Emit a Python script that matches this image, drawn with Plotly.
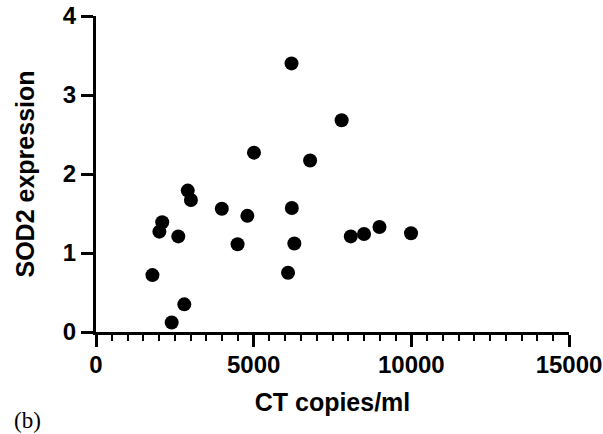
import plotly.graph_objects as go

ct_copies = [6200, 5010, 2910, 3010, 3990, 4800, 6210, 2100, 2010, 2610, 4490, 6290,
             1790, 6090, 2800, 2400, 7790, 6790, 8080, 8500, 8990, 9990]
sod2_expr = [3.40, 2.27, 1.79, 1.67, 1.56, 1.47, 1.57, 1.39, 1.27, 1.21, 1.11, 1.12,
             0.72, 0.75, 0.35, 0.12, 2.68, 2.17, 1.21, 1.24, 1.33, 1.25]

x_ticks = [0, 5000, 10000, 15000]
y_ticks = [0, 1, 2, 3, 4]

fig = go.Figure()
fig.add_trace(go.Scatter(
    x=ct_copies, y=sod2_expr, mode="markers",
    marker=dict(color="black", size=14, line=dict(width=0)),
    showlegend=False, cliponaxis=False,
))

font_b = "Liberation Sans, Arial, sans-serif"
fig.update_layout(
    width=603, height=434,
    margin=dict(l=96, r=34, t=16, b=102, autoexpand=False),
    paper_bgcolor="white", plot_bgcolor="white",
    font=dict(family=font_b, color="black"),
    xaxis=dict(
        range=[0, 15000], tickvals=x_ticks, ticktext=[str(v) for v in x_ticks],
        automargin=False,
        showgrid=False, zeroline=False, showline=True, linewidth=3, linecolor="black",
        ticks="outside", ticklen=12, tickwidth=2.5, tickcolor="black",
        minor=dict(dtick=500, ticks="outside", ticklen=6, tickwidth=2, tickcolor="black", showgrid=False),
        tickfont=dict(size=24, family=font_b, weight="bold"),
        ticklabelstandoff=-3,
        title=dict(text="<b>CT copies/ml</b>", font=dict(size=25, family=font_b), standoff=17),
    ),
    yaxis=dict(
        range=[0, 4], tickvals=y_ticks,
        automargin=False,
        showgrid=False, zeroline=False, showline=True, linewidth=3, linecolor="black",
        ticks="outside", ticklen=12, tickwidth=2.5, tickcolor="black",
        tickfont=dict(size=24, family=font_b, weight="bold"),
        ticklabelstandoff=0,
        title=dict(text="<b>SOD2 expression</b>", font=dict(size=25, family=font_b), standoff=22),
    ),
)
fig.add_annotation(
    text="(b)", xref="paper", yref="paper", x=-96/473, y=-102/316,
    xanchor="left", yanchor="bottom", xshift=12, yshift=-1, showarrow=False,
    font=dict(size=23, family="Liberation Serif, Times New Roman, serif", color="black"),
)
fig.write_html("out.html")
